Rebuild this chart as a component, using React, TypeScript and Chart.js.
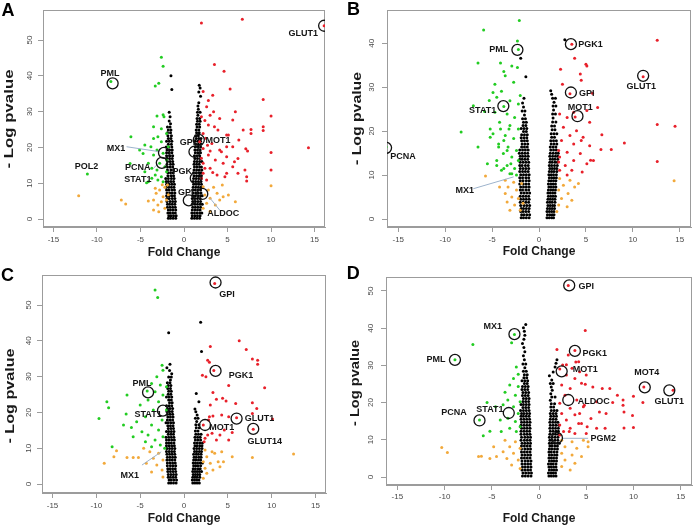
import React, { useEffect, useRef } from 'react';
import { Chart, registerables } from 'chart.js';

Chart.register(...registerables);

type Pt = [number, number];
type Label = [string, number, number];
type Seg = [number, number, number, number];

// ---------- axes ----------
const xTickValues = [-15, -10, -5, 0, 5, 10, 15];
const yTickValuesA = [0, 10, 20, 30, 40, 50];
const yTickValuesB = [0, 10, 20, 30, 40];
const yTickValuesC = [0, 10, 20, 30, 40, 50];
const yTickValuesD = [0, 10, 20, 30, 40, 50];
const xAxisTitle = 'Fold Change';
const yAxisTitle = '- Log pvalue';
const panelLetters = ['A', 'B', 'C', 'D'];

// ---------- panel A ----------
const greenA: Pt[] = [[-8.4,38.4],[-11.1,12.6],[-2.6,45.2],[-2.4,42.7],[-2.9,37.9],[-3.3,37.2],[-2.4,29.1],[-2.3,28.6],[-3.1,28.8],[-3.5,25.8],[-2.6,25.2],[-6.1,23.0],[-3.5,22.5],[-3.0,23.0],[-2.6,21.6],[-3.8,20.2],[-5.1,19.3],[-3.1,19.3],[-4.7,18.3],[-2.4,18.4],[-3.5,17.9],[-6.2,15.5],[-4.1,15.6],[-2.8,15.6],[-2.2,14.6],[-3.7,14.2],[-3.1,13.7],[-4.5,13.2],[-3.3,12.3],[-2.6,11.8],[-3.7,11.4],[-3.0,10.9],[-4.1,10.4],[-2.4,10.4],[-4.3,10.1],[-2.0,13.2],[-2.0,16.5],[-1.8,20.2],[-2.0,23.9],[-4.5,20.7]];
const redA: Pt[] = [[16.1,54.0],[2.0,54.8],[6.7,55.8],[3.5,43.2],[4.6,41.3],[5.3,36.3],[3.3,34.6],[2.8,33.1],[2.2,35.6],[9.1,33.4],[10.0,28.8],[5.9,30.0],[7.7,25.0],[7.7,23.9],[9.1,25.8],[9.1,24.7],[14.3,19.9],[10.0,18.6],[10.0,13.7],[7.2,11.8],[7.2,10.6],[7.3,19.0],[2.6,31.4],[3.4,30.0],[2.0,28.6],[4.1,28.1],[2.8,26.3],[3.9,24.9],[2.2,23.9],[4.9,23.5],[3.2,21.1],[2.2,19.7],[4.1,19.3],[2.8,17.9],[3.6,16.5],[2.2,15.6],[4.5,15.6],[3.0,14.2],[2.2,12.8],[3.8,12.3],[2.6,10.9],[2.0,11.4],[4.9,20.2],[1.8,21.6],[2.0,17.0],[4.7,11.8],[5.6,27.7],[6.8,24.9],[5.1,23.5],[6.3,22.1],[5.6,20.2],[7.1,19.6],[4.9,17.4],[6.2,16.9],[5.6,14.6],[4.9,12.8],[7.0,13.7],[5.8,16.0],[4.3,18.8],[6.2,12.8],[2.5,22.6],[3.0,19.0],[2.4,14.2],[3.3,13.0],[2.7,20.6],[3.5,25.8],[2.4,27.5],[3.0,29.0]];
const orangeA: Pt[] = [[-12.1,6.5],[-7.2,5.3],[-6.7,4.2],[-4.1,5.0],[-3.5,2.5],[-3.2,7.2],[-3.3,8.6],[-2.8,8.1],[-2.2,8.9],[-2.4,6.2],[-3.5,5.3],[-2.6,4.8],[-2.0,5.3],[-3.0,3.9],[-2.2,3.0],[-1.9,9.5],[-2.5,9.6],[-1.8,6.8],[-2.9,2.0],[2.2,9.0],[2.8,8.1],[3.4,8.9],[2.4,6.7],[3.8,7.2],[3.0,5.8],[4.1,5.3],[2.6,4.4],[3.6,3.9],[2.2,3.0],[4.5,6.2],[5.1,6.7],[5.9,4.8],[4.4,9.5],[10.0,9.3],[3.0,2.2]];
const blackA: Pt[] = [[-1.5,40.0],[-1.4,36.2],[-1.7,29.8],[-1.6,28.6],[1.75,37.4],[1.85,36.6],[1.7,35.5],[1.9,34.3]];
// rows: [y, x1, x2, ...]
const blackLeftRowsA: number[][] = [[0.2,-0.95,-1.25,-1.55,-1.8],[0.9,-0.9,-1.2,-1.5,-1.75],[1.7,-1.0,-1.3,-1.6,-1.85],[2.5,-0.95,-1.25,-1.55,-1.8],[3.3,-1.0,-1.3,-1.6,-1.9],[4.1,-1.05,-1.35,-1.65,-1.9],[4.9,-1.0,-1.3,-1.6,-1.95],[5.7,-1.05,-1.35,-1.7,-1.95],[6.5,-1.1,-1.4,-1.7,-2.0],[7.3,-1.05,-1.35,-1.65,-1.95],[8.1,-1.1,-1.4,-1.75,-2.0],[8.9,-1.15,-1.45,-1.75,-2.05],[9.7,-1.1,-1.4,-1.7,-2.0],[10.5,-1.2,-1.5,-1.8,-2.05],[11.3,-1.15,-1.45,-1.8,-2.1],[12.1,-1.2,-1.5,-1.85],[12.9,-1.25,-1.55,-1.85],[13.7,-1.2,-1.5,-1.9],[14.5,-1.3,-1.6,-1.9],[15.3,-1.25,-1.55,-1.95],[16.1,-1.3,-1.6,-1.9],[16.9,-1.35,-1.65,-1.95],[17.7,-1.3,-1.6,-2.0],[18.5,-1.4,-1.7,-2.0],[19.3,-1.35,-1.65,-1.95],[20.1,-1.4,-1.75,-2.05],[20.9,-1.45,-1.8],[21.7,-1.4,-1.7,-2.0],[22.5,-1.5,-1.8],[23.3,-1.45,-1.85],[24.1,-1.55,-1.9],[24.9,-1.5,-1.8],[25.7,-1.6,-1.9],[26.6,-1.55],[27.4,-1.7]];
const blackRightRowsA: number[][] = [[0.2,0.9,1.2,1.5,1.8],[0.9,0.95,1.25,1.55,1.85],[1.7,0.9,1.2,1.5,1.8,2.05],[2.5,0.95,1.25,1.55,1.85],[3.3,1.0,1.3,1.6,1.9],[4.1,0.95,1.25,1.55,1.85,2.1],[4.9,1.0,1.3,1.6,1.9],[5.7,0.95,1.25,1.55,1.85],[6.5,1.0,1.3,1.6,1.9,2.1],[7.3,1.05,1.35,1.65,1.95],[8.1,1.0,1.3,1.6,1.9],[8.9,1.05,1.35,1.65,1.95],[9.7,1.1,1.4,1.7,2.0],[10.5,1.05,1.35,1.65,1.95],[11.3,1.1,1.4,1.7,2.0],[12.1,1.15,1.45,1.75,2.0],[12.9,1.1,1.4,1.7,1.95],[13.7,1.15,1.45,1.75,2.05],[14.5,1.2,1.5,1.8,2.0],[15.3,1.15,1.45,1.75],[16.1,1.2,1.5,1.8,2.05],[16.9,1.25,1.55,1.85],[17.7,1.2,1.5,1.8],[18.5,1.3,1.6,1.9],[19.3,1.25,1.55,1.85],[20.1,1.3,1.6,1.9],[20.9,1.35,1.65,1.95],[21.7,1.3,1.6,1.9],[22.5,1.4,1.7,1.95],[23.3,1.35,1.65],[24.1,1.45,1.75],[24.9,1.4,1.7],[25.7,1.5,1.8],[26.5,1.45,1.75],[27.3,1.55,1.85],[28.1,1.5,1.8],[29.0,1.6],[29.8,1.55,1.85],[30.7,1.65],[31.6,1.6],[32.5,1.7]];
const circlesA: Pt[] = [[16.1,54.0],[-8.2,37.9],[-2.3,18.5],[-2.55,15.7],[1.7,22.1],[1.2,18.8],[1.35,11.4],[0.55,5.2],[2.1,7.0]];
const labelsA: Label[] = [['GLUT1',13.7,51.9],['PML',-8.5,40.7],['POL2',-11.2,14.6],['MX1',-7.8,19.7],['PCNA',-5.3,14.3],['STAT1',-5.3,11.1],['GPI',0.4,21.3],['MOT1',3.9,21.8],['PGK',-0.2,13.4],['GPI',0.2,7.4],['ALDOC',4.5,1.6]];
const leadersA: Seg[] = [[-6.6,20.2,-2.8,18.8],[-3.5,14.2,-3.0,15.4],[3.0,5.8,4.1,2.5]];

// ---------- panel B ----------
const greenB: Pt[] = [[-16.3,16.4],[-2.1,45.2],[-5.9,43.0],[-2.3,40.5],[-2.2,38.6],[-6.5,35.5],[-4.1,35.5],[-3.75,33.6],[-2.3,34.5],[-8.3,19.8],[-7.0,25.8],[-6.5,16.4],[-3.75,25.6],[-4.9,28.8],[-4.0,29.1],[-5.2,20.5],[-4.1,20.5],[-3.2,20.5],[-5.2,18.6],[-3.75,17.9],[-4.3,16.4],[-3.4,15.6],[-5.5,12.6],[-4.5,12.2],[-3.0,12.6],[-2.9,10.3],[-3.75,11.5],[-2.9,34.8],[-3.6,32.6],[-4.7,30.7],[-2.7,31.1],[-2.0,28.1],[-4.5,27.7],[-3.1,26.9],[-2.2,26.2],[-4.7,24.3],[-3.4,23.9],[-2.6,23.1],[-4.2,22.0],[-3.1,21.3],[-2.2,20.5],[-4.9,19.4],[-3.6,19.0],[-2.7,18.3],[-4.3,17.1],[-3.3,16.4],[-2.4,15.6],[-3.8,14.9],[-2.9,14.1],[-2.2,13.3],[-4.5,13.3],[-3.4,12.2],[-2.6,11.5],[-4.0,11.1],[-3.1,10.3],[-2.4,10.0],[-5.8,24.5],[-5.3,27.0]];
const redB: Pt[] = [[3.5,39.8],[12.6,40.7],[11.1,32.4],[5.0,35.2],[3.8,36.6],[3.3,28.5],[3.85,23.2],[12.6,21.5],[14.5,21.1],[9.1,17.3],[7.7,15.8],[6.7,19.2],[12.6,13.1],[6.25,25.4],[5.7,28.6],[4.5,31.6],[2.3,34.1],[2.5,30.7],[5.5,13.4],[6.6,15.8],[4.5,17.9],[5.1,34.8],[4.4,33.0],[2.2,23.9],[3.0,23.1],[3.7,24.3],[5.1,24.7],[5.4,22.0],[2.6,20.9],[4.0,20.1],[3.3,19.0],[4.7,18.6],[2.4,17.9],[3.7,17.1],[5.4,16.7],[2.1,15.6],[3.0,15.2],[4.4,14.9],[2.2,14.1],[3.7,13.3],[5.1,12.6],[2.8,12.2],[2.2,11.1],[3.5,11.1],[4.6,10.7],[3.0,10.0],[2.1,13.0],[5.8,13.3]];
const orangeB: Pt[] = [[14.4,8.7],[-5.7,9.8],[-3.6,8.8],[-2.7,8.4],[-3.3,7.3],[-2.4,6.6],[-3.6,5.8],[-2.9,5.0],[-2.2,4.7],[-3.4,3.9],[-2.6,3.2],[-3.1,2.0],[-2.0,2.0],[-4.2,7.3],[-1.85,8.1],[-1.7,3.6],[2.2,9.2],[3.3,8.8],[2.6,7.7],[3.8,7.3],[2.1,6.6],[3.1,5.8],[2.4,4.7],[3.5,4.3],[2.1,3.2],[3.0,2.8],[4.2,8.1],[1.9,1.7]];
const blackB: Pt[] = [[-1.95,36.6],[-1.4,32.4],[2.75,40.8],[-1.6,27.5]];
const blackLeftRowsB: number[][] = [[0.3,-1.05,-1.35,-1.65,-1.9],[1.0,-1.0,-1.3,-1.6,-1.85],[1.7,-1.1,-1.4,-1.7,-1.95],[2.4,-1.05,-1.35,-1.65,-1.9],[3.1,-1.0,-1.3,-1.6,-1.95],[3.8,-1.1,-1.4,-1.7,-2.0],[4.5,-1.05,-1.35,-1.65,-1.95],[5.2,-1.1,-1.4,-1.7,-2.0],[5.9,-1.0,-1.3,-1.6,-1.9],[6.6,-1.1,-1.4,-1.75,-2.0],[7.3,-1.05,-1.35,-1.65,-1.95],[8.0,-1.1,-1.4,-1.7,-2.05],[8.7,-1.05,-1.35,-1.7,-2.0],[9.4,-1.1,-1.4,-1.75,-2.05],[10.1,-1.05,-1.35,-1.65,-1.95],[10.8,-1.15,-1.45,-1.75,-2.05],[11.5,-1.1,-1.4,-1.7,-2.0],[12.2,-1.15,-1.45,-1.8,-2.05],[12.9,-1.1,-1.4,-1.7,-2.0],[13.6,-1.2,-1.5,-1.8,-2.05],[14.3,-1.15,-1.45,-1.75,-2.0],[15.0,-1.2,-1.5,-1.8,-2.1],[15.7,-1.15,-1.45,-1.75,-2.05],[16.4,-1.25,-1.55,-1.85],[17.1,-1.2,-1.5,-1.8],[17.8,-1.25,-1.55,-1.85],[18.5,-1.3,-1.6,-1.9],[19.2,-1.25,-1.55,-1.85],[19.9,-1.35,-1.65],[20.6,-1.3,-1.6,-1.9],[21.3,-1.4,-1.7],[22.0,-1.35,-1.65],[22.8,-1.45,-1.75],[23.7,-1.55],[24.6,-1.5,-1.8],[25.5,-1.65],[26.4,-1.75]];
const blackRightRowsB: number[][] = [[0.3,0.85,1.1,1.35,1.55],[1.0,0.9,1.15,1.4,1.6],[1.7,0.85,1.1,1.35,1.6],[2.4,0.9,1.15,1.4,1.65],[3.1,0.95,1.2,1.45,1.65],[3.8,0.9,1.15,1.4,1.7],[4.5,0.95,1.2,1.45,1.7],[5.2,1.0,1.25,1.5,1.75],[5.9,0.95,1.2,1.45,1.7],[6.6,1.0,1.25,1.5,1.75],[7.3,1.05,1.3,1.55,1.8],[8.0,1.0,1.25,1.5,1.75],[8.7,1.05,1.3,1.55,1.8],[9.4,1.1,1.35,1.6,1.85],[10.1,1.05,1.3,1.55,1.85],[10.8,1.1,1.35,1.6,1.9],[11.5,1.15,1.4,1.65,1.9],[12.2,1.1,1.35,1.65,1.95],[12.9,1.15,1.4,1.7,1.95],[13.6,1.2,1.45,1.7,2.0],[14.3,1.15,1.45,1.75,2.0],[15.0,1.2,1.5,1.8,2.05],[15.7,1.25,1.55,1.85],[16.4,1.2,1.5,1.8],[17.1,1.3,1.6,1.9],[17.8,1.25,1.55,1.85],[18.6,1.35,1.65],[19.4,1.3,1.6,1.9],[20.3,1.4,1.7],[21.2,1.35,1.65],[22.1,1.45,1.8],[23.0,1.5],[23.9,1.45,1.75],[24.8,1.55],[25.7,1.5,1.8],[26.6,1.6],[27.5,1.45,1.75],[28.4,1.35],[29.2,1.25]];
const circlesB: Pt[] = [[-2.3,38.5],[3.4,39.8],[11.1,32.6],[3.4,28.8],[4.1,23.4],[-3.8,25.7],[-16.3,16.2]];
const labelsB: Label[] = [['PML',-4.3,38.5],['PGK1',5.5,39.8],['GLUT1',10.9,30.1],['GPI',5.1,28.6],['MOT1',4.4,25.3],['STAT1',-6.0,24.7],['PCNA',-14.5,14.3],['MX1',-7.9,6.4]];
const leadersB: Seg[] = [[-7.0,6.9,-2.7,9.6]];

// ---------- panel C ----------
const greenC: Pt[] = [[-3.3,54.2],[-3.0,52.1],[-4.2,26.0],[-6.5,24.9],[-8.8,23.0],[-8.6,21.3],[-9.7,18.3],[-6.6,19.6],[-8.2,10.4],[-6.9,16.5],[-6.0,15.8],[-5.8,13.2],[-2.5,33.2],[-2.4,31.8],[-3.1,30.0],[-3.7,28.1],[-2.7,27.7],[-3.3,25.8],[-2.4,24.9],[-4.1,23.5],[-2.9,23.0],[-5.0,22.1],[-3.5,20.7],[-4.4,18.8],[-2.5,17.9],[-5.4,17.4],[-3.7,16.5],[-2.9,15.1],[-4.8,14.6],[-4.1,13.7],[-2.4,13.2],[-3.3,12.3],[-4.4,11.8],[-2.7,10.9],[-3.7,10.4],[-2.2,10.0],[-2.0,20.7],[-2.0,27.2]];
const redC: Pt[] = [[3.5,56.0],[6.3,40.0],[7.1,37.6],[3.0,38.4],[2.7,34.6],[2.9,34.0],[3.4,31.7],[2.1,30.4],[2.5,30.0],[7.8,34.9],[8.4,34.6],[8.4,33.5],[9.2,26.9],[10.1,18.2],[6.0,18.5],[7.9,15.3],[2.2,16.5],[5.1,27.5],[3.3,25.6],[3.7,23.7],[4.8,23.2],[5.9,22.5],[7.8,22.7],[8.3,21.1],[7.8,19.7],[5.1,18.8],[4.3,19.3],[3.0,22.1],[3.3,19.0],[4.6,15.1],[5.5,14.4],[5.1,12.3],[3.7,12.3],[2.7,13.7],[2.9,18.8],[2.3,11.8],[2.8,17.9],[3.2,14.2],[2.4,12.8],[4.1,13.7],[4.4,24.0]];
const orangeC: Pt[] = [[12.5,8.4],[-9.1,5.8],[-8.0,7.6],[-7.7,9.3],[-6.5,7.4],[-5.8,7.4],[-5.2,7.4],[7.8,7.4],[5.5,7.6],[4.5,6.2],[3.9,6.2],[3.5,8.6],[4.3,9.0],[-4.6,10.0],[-3.9,9.0],[-2.9,8.6],[-3.5,7.2],[-2.4,6.7],[-4.3,5.8],[-3.1,5.3],[-2.5,3.9],[-3.7,3.4],[-2.4,2.0],[2.4,9.5],[3.2,9.0],[2.6,7.6],[2.2,6.2],[3.0,5.8],[2.4,4.4],[3.3,3.9],[2.6,3.0],[2.2,1.6],[4.1,4.8]];
const blackC: Pt[] = [[-1.75,42.3],[1.4,25.3],[1.7,23.0],[2.0,37.0],[1.9,45.2]];
const blackLeftRowsC: number[][] = [[0.3,-0.9,-1.2,-1.5,-1.75],[1.1,-0.85,-1.15,-1.45,-1.7],[1.9,-0.95,-1.25,-1.55,-1.8],[2.7,-0.9,-1.2,-1.5,-1.8],[3.5,-0.95,-1.25,-1.55,-1.85],[4.3,-1.0,-1.3,-1.6,-1.85],[5.1,-0.95,-1.25,-1.55,-1.9],[5.9,-1.0,-1.3,-1.6,-1.9],[6.7,-1.05,-1.35,-1.65,-1.95],[7.5,-1.0,-1.3,-1.6,-1.9],[8.3,-1.05,-1.35,-1.65,-1.95],[9.1,-1.1,-1.4,-1.7,-2.0],[9.9,-1.05,-1.35,-1.65,-1.95],[10.7,-1.1,-1.4,-1.7,-2.0],[11.5,-1.15,-1.45,-1.75,-2.0],[12.3,-1.1,-1.4,-1.7,-2.0],[13.1,-1.15,-1.45,-1.75,-2.05],[13.9,-1.2,-1.5,-1.8],[14.7,-1.15,-1.45,-1.75,-2.0],[15.5,-1.2,-1.5,-1.8],[16.3,-1.25,-1.55,-1.85],[17.1,-1.2,-1.5,-1.8,-2.05],[17.9,-1.3,-1.6,-1.9],[18.7,-1.25,-1.55,-1.85],[19.5,-1.3,-1.6,-1.9],[20.3,-1.35,-1.65,-1.95],[21.1,-1.3,-1.6,-1.9],[21.9,-1.4,-1.7,-2.0],[22.7,-1.35,-1.65],[23.5,-1.45,-1.75],[24.3,-1.4,-1.7,-2.0],[25.1,-1.5,-1.8],[25.9,-1.45,-1.75],[26.7,-1.55,-1.85],[27.5,-1.5,-1.8],[28.3,-1.6,-1.9],[29.1,-1.55],[29.9,-1.45,-1.75],[30.8,-1.4],[31.7,-1.65],[32.5,-1.95],[33.5,-1.6]];
const blackRightRowsC: number[][] = [[0.3,1.0,1.25,1.5,1.75],[1.1,0.95,1.2,1.45,1.7],[1.9,1.0,1.25,1.5,1.8],[2.7,1.05,1.3,1.55,1.8],[3.5,1.0,1.25,1.5,1.75,2.0],[4.3,1.05,1.3,1.6,1.85],[5.1,1.1,1.35,1.6,1.9],[5.9,1.05,1.3,1.55,1.85,2.1],[6.7,1.1,1.35,1.65,1.9],[7.5,1.15,1.4,1.7,1.95],[8.3,1.1,1.4,1.65,1.95],[9.1,1.2,1.45,1.75,2.0],[9.9,1.15,1.45,1.75,2.05],[10.7,1.25,1.5,1.8,2.05],[11.5,1.2,1.5,1.8,2.1],[12.3,1.3,1.6,1.9],[13.1,1.25,1.55,1.85],[13.9,1.35,1.65,1.95],[14.8,1.3,1.6],[15.7,1.4,1.75],[16.6,1.35,1.7],[17.5,1.45],[18.4,1.3,1.6],[19.3,1.5],[20.2,1.35],[21.0,1.25]];
const circlesC: Pt[] = [[3.6,56.3],[3.6,31.6],[-4.1,25.6],[-2.4,20.5],[6.0,18.3],[2.4,16.5],[7.9,15.4]];
const labelsC: Label[] = [['GPI',4.9,53.0],['PGK1',6.5,30.3],['PML',-4.8,28.1],['STAT1',-4.1,19.3],['GLUT1',8.6,18.3],['MOT1',4.3,15.7],['GLUT14',9.2,12.0],['MX1',-6.2,2.3]];
const leadersC: Seg[] = [[-4.8,5.3,-2.6,9.0]];

// ---------- panel D ----------
const greenD: Pt[] = [[-2.6,38.3],[-2.9,36.1],[-7.0,35.6],[-8.9,31.5],[-6.3,15.3],[-5.5,20.0],[-5.9,11.1],[-2.4,29.6],[-2.2,27.6],[-2.7,26.5],[-3.1,24.7],[-2.2,24.3],[-2.5,22.0],[-3.3,20.7],[-2.0,20.2],[-3.8,19.4],[-2.7,18.9],[-2.2,17.1],[-3.3,15.8],[-4.1,15.3],[-2.5,14.9],[-2.0,13.5],[-3.1,13.1],[-4.0,12.2],[-2.4,12.2],[-4.6,18.9],[-5.2,12.3],[-3.6,22.8]];
const redD: Pt[] = [[3.1,51.5],[4.9,39.4],[3.8,34.0],[1.9,34.3],[2.5,30.1],[2.9,30.2],[2.2,29.0],[11.1,24.2],[14.2,23.3],[11.0,20.0],[10.0,21.7],[9.9,16.5],[10.0,13.3],[9.0,13.2],[9.0,17.5],[7.5,23.8],[6.7,23.8],[4.9,24.9],[7.0,13.1],[6.1,13.1],[3.9,30.9],[4.3,28.3],[5.0,27.4],[3.8,26.5],[5.7,24.2],[8.3,22.0],[7.8,20.0],[8.9,20.7],[8.9,19.3],[6.1,20.2],[5.5,15.7],[7.1,17.1],[4.5,14.4],[5.0,11.7],[3.2,12.2],[4.3,17.1],[4.8,19.3],[6.4,17.5],[3.1,32.8],[4.2,31.0],[3.5,29.2],[2.9,27.4],[2.4,24.7],[3.3,23.8],[4.5,25.2],[2.75,22.0],[4.0,20.7],[2.2,19.8],[3.3,18.5],[4.7,18.9],[2.4,17.1],[3.8,16.7],[2.9,15.3],[2.2,14.0],[4.2,14.4],[3.3,13.1],[2.6,12.2],[5.1,13.5],[3.8,11.7],[2.2,11.3]];
const orangeD: Pt[] = [[-10.3,7.9],[-9.7,6.6],[-6.4,5.5],[-6.1,5.6],[-3.6,9.9],[-2.5,9.5],[-3.1,8.1],[-2.0,7.7],[-3.8,6.8],[-2.7,6.4],[-3.4,5.0],[-2.2,4.6],[-2.9,3.2],[-2.0,2.3],[-4.5,5.5],[-4.8,8.1],[-5.2,5.0],[2.4,9.9],[3.5,9.5],[4.7,9.9],[2.75,8.1],[4.0,7.7],[5.2,8.1],[2.4,6.4],[3.5,5.9],[4.5,5.5],[2.75,4.6],[3.8,3.7],[2.4,2.8],[3.3,1.9],[5.2,9.5]];
const blackD: Pt[] = [];
const blackLeftRowsD: number[][] = [[0.3,-0.85,-1.15,-1.45,-1.75],[1.1,-0.8,-1.1,-1.4,-1.7],[1.9,-0.9,-1.2,-1.5,-1.8],[2.7,-0.85,-1.15,-1.45,-1.75],[3.5,-0.9,-1.2,-1.5,-1.8],[4.3,-0.85,-1.15,-1.45,-1.8],[5.1,-0.95,-1.25,-1.55,-1.85],[5.9,-0.9,-1.2,-1.5,-1.8],[6.7,-0.95,-1.25,-1.55,-1.85],[7.5,-0.9,-1.2,-1.5,-1.85],[8.3,-0.95,-1.25,-1.55,-1.85],[9.1,-0.9,-1.2,-1.5,-1.8],[9.9,-0.95,-1.25,-1.55,-1.9],[10.7,-0.9,-1.2,-1.5,-1.85],[11.5,-0.95,-1.25,-1.55,-1.9],[12.3,-1.0,-1.3,-1.6,-1.9],[13.1,-0.95,-1.25,-1.55,-1.85],[13.9,-1.0,-1.3,-1.6,-1.9],[14.7,-0.95,-1.25,-1.55,-1.85],[15.5,-1.0,-1.3,-1.6,-1.9],[16.3,-1.05,-1.35,-1.65,-1.9],[17.1,-1.0,-1.3,-1.6,-1.85],[17.9,-1.05,-1.35,-1.65,-1.95],[18.7,-1.1,-1.4,-1.7],[19.5,-1.05,-1.35,-1.65,-1.9],[20.3,-1.1,-1.4,-1.7],[21.1,-1.05,-1.35,-1.65],[21.9,-1.15,-1.45,-1.75],[22.7,-1.1,-1.4,-1.7],[23.5,-1.2,-1.5,-1.8],[24.3,-1.15,-1.45,-1.75],[25.1,-1.25,-1.55],[25.9,-1.2,-1.5,-1.8],[26.7,-1.3,-1.6],[27.5,-1.25,-1.55],[28.4,-1.35,-1.65],[29.4,-1.5],[30.4,-1.4,-1.7],[31.5,-1.55],[32.6,-1.65],[33.7,-1.5],[34.8,-1.6],[35.9,-1.75],[37.0,-1.6],[38.1,-1.5],[39.2,-1.55],[40.1,-1.65],[41.0,-1.4]];
const blackRightRowsD: number[][] = [[0.3,1.05,1.3,1.55,1.8],[1.1,1.0,1.25,1.5,1.75],[1.9,1.1,1.35,1.6,1.85],[2.7,1.05,1.3,1.55,1.8],[3.5,1.0,1.25,1.5,1.8],[4.3,1.1,1.35,1.6,1.85],[5.1,1.05,1.3,1.55,1.85],[5.9,1.1,1.35,1.65,1.9],[6.7,1.05,1.3,1.6,1.9],[7.5,1.1,1.35,1.65,1.95],[8.3,1.15,1.4,1.7,1.95],[9.1,1.1,1.35,1.65,1.95,2.15],[9.9,1.15,1.4,1.7,2.0],[10.7,1.1,1.4,1.7,2.0],[11.5,1.15,1.45,1.75,2.05],[12.3,1.2,1.5,1.8,2.05],[13.1,1.15,1.45,1.75,2.05],[13.9,1.2,1.5,1.8,2.1],[14.7,1.15,1.45,1.75,2.0],[15.5,1.2,1.5,1.8],[16.3,1.25,1.55,1.85],[17.1,1.2,1.5,1.8],[17.9,1.3,1.6,1.9],[18.8,1.25,1.55],[19.7,1.3,1.65],[20.6,1.2],[21.5,1.35,1.7],[22.4,1.25],[23.3,1.4],[24.2,1.3],[25.1,1.2,1.5],[26.1,1.35],[27.2,1.1],[28.2,1.5],[29.6,1.7],[30.6,1.8],[31.5,1.9]];
const circlesD: Pt[] = [[3.2,51.5],[-2.6,38.4],[-8.9,31.5],[3.8,33.9],[2.4,28.4],[11.2,24.1],[13.8,23.3],[3.1,20.7],[-3.2,17.2],[-6.3,15.2],[1.9,10.5]];
const labelsD: Label[] = [['GPI',5.0,51.3],['MX1',-4.9,40.5],['PML',-10.9,31.7],['PGK1',5.9,33.2],['MOT1',4.9,29.0],['MOT4',11.4,28.1],['GLUT1',13.8,20.2],['ALDOC',5.8,20.2],['STAT1',-5.2,18.2],['PCNA',-9.0,17.3],['PGM2',6.8,10.4]];
const leadersD: Seg[] = [[2.5,10.4,5.2,10.4]];

// ---------- styling / layout (not data) ----------
const FONT = "Arial, 'Liberation Sans', Helvetica, sans-serif";
const COLORS = { green: '#22cc22', red: '#e8202a', orange: '#f2a93b', black: '#000000', box: '#9c9c9c', leader: '#9db3cc', tick: '#4a4a4a', title: '#1a1a1a', label: '#151515' };

interface Layout { left: number; top: number; width: number; height: number; padTop: number; padRight: number; yAxisW: number; xAxisH: number; xTickPad: number; yTickPad: number; xTitlePad: number; yTitleX: number; yTitleY: number; yTitleLen: number; letterLeft: number; letterTop: number; }
interface Spec { letter: string; yMin: number; yMax: number; yTicks: number[]; green: Pt[]; red: Pt[]; orange: Pt[]; black: Pt[]; leftRows: number[][]; rightRows: number[][]; circles: Pt[]; labels: Label[]; leaders: Seg[]; layout: Layout; }

const specs: Spec[] = [
  { letter: panelLetters[0], yMin: -2.23, yMax: 58.4, yTicks: yTickValuesA, green: greenA, red: redA, orange: orangeA, black: blackA, leftRows: blackLeftRowsA, rightRows: blackRightRowsA, circles: circlesA, labels: labelsA, leaders: leadersA,
    layout: { left: 0, top: 0, width: 348, height: 265, padTop: 10, padRight: 23, yAxisW: 43, xAxisH: 38, xTickPad: 3, yTickPad: 3.5, xTitlePad: 4.8, yTitleX: 10, yTitleY: 119, yTitleLen: 99, letterLeft: 1.5, letterTop: 1.2 } },
  { letter: panelLetters[1], yMin: -1.81, yMax: 47.5, yTicks: yTickValuesB, green: greenB, red: redB, orange: orangeB, black: blackB, leftRows: blackLeftRowsB, rightRows: blackRightRowsB, circles: circlesB, labels: labelsB, leaders: leadersB,
    layout: { left: 348, top: 0, width: 348, height: 265, padTop: 9, padRight: 5, yAxisW: 39, xAxisH: 38, xTickPad: 3, yTickPad: 5.5, xTitlePad: 5.8, yTitleX: 10, yTitleY: 118.5, yTitleLen: 93, letterLeft: 347, letterTop: -0.3 } },
  { letter: panelLetters[2], yMin: -2.5, yMax: 58.4, yTicks: yTickValuesC, green: greenC, red: redC, orange: orangeC, black: blackC, leftRows: blackLeftRowsC, rightRows: blackRightRowsC, circles: circlesC, labels: labelsC, leaders: leadersC,
    layout: { left: 0, top: 265, width: 348, height: 264, padTop: 10, padRight: 22, yAxisW: 42, xAxisH: 36, xTickPad: 3, yTickPad: 4.2, xTitlePad: 2.8, yTitleX: 11, yTitleY: 131, yTitleLen: 95, letterLeft: 1, letterTop: 265.5 } },
  { letter: panelLetters[3], yMin: -2.15, yMax: 53.76, yTicks: yTickValuesD, green: greenD, red: redD, orange: orangeD, black: blackD, leftRows: blackLeftRowsD, rightRows: blackRightRowsD, circles: circlesD, labels: labelsD, leaders: leadersD,
    layout: { left: 348, top: 265, width: 348, height: 264, padTop: 12, padRight: 4, yAxisW: 38, xAxisH: 44, xTickPad: 2, yTickPad: 5.8, xTitlePad: 2.8, yTitleX: 8, yTitleY: 118, yTitleLen: 86, letterLeft: 346.7, letterTop: 263.5 } },
];

const toXY = (pts: Pt[]) => pts.map(([x, y]) => ({ x, y }));
const fromRows = (rows: number[][]) => rows.flatMap(([y, ...xs]) => xs.map((x) => ({ x, y })));

function Panel({ spec }: { spec: Spec }) {
  const ref = useRef<HTMLCanvasElement>(null);
  const L = spec.layout;
  useEffect(() => {
    const canvas = ref.current;
    if (!canvas) return;

    const boxPlugin = {
      id: 'rbox',
      beforeDatasetsDraw(chart: any) {
        const { ctx, chartArea: a } = chart;
        ctx.save();
        ctx.strokeStyle = COLORS.box;
        ctx.lineWidth = 1;
        ctx.strokeRect(Math.round(a.left) + 0.5, Math.round(a.top) + 0.5, Math.round(a.right - a.left) - 1, Math.round(a.bottom - a.top) - 1);
        ctx.restore();
      },
    };
    const labelPlugin = {
      id: 'geneLabels',
      afterDatasetsDraw(chart: any) {
        const { ctx } = chart;
        const xs = chart.scales.x;
        const ys = chart.scales.y;
        ctx.save();
        ctx.font = `bold 9px ${FONT}`;
        ctx.fillStyle = COLORS.label;
        ctx.textAlign = 'center';
        ctx.textBaseline = 'middle';
        for (const [t, vx, vy] of spec.labels) ctx.fillText(t, xs.getPixelForValue(vx), ys.getPixelForValue(vy));
        ctx.restore();
      },
    };
    const yTitlePlugin = {
      id: 'yTitle',
      afterDraw(chart: any) {
        const { ctx } = chart;
        ctx.save();
        ctx.font = `bold 12px ${FONT}`;
        const w = ctx.measureText(yAxisTitle).width || 1;
        ctx.translate(L.yTitleX, L.yTitleY);
        ctx.rotate(-Math.PI / 2);
        ctx.scale(L.yTitleLen / w, 1);
        ctx.fillStyle = COLORS.title;
        ctx.textAlign = 'center';
        ctx.textBaseline = 'middle';
        ctx.fillText(yAxisTitle, 0, 0);
        ctx.restore();
      },
    };

    const black = [...fromRows(spec.leftRows), ...fromRows(spec.rightRows), ...toXY(spec.black)];
    const datasets: any[] = [
      { label: 'circles', data: toXY(spec.circles), pointRadius: 5.5, pointStyle: 'circle', pointBorderColor: '#111', pointBorderWidth: 1.3, pointBackgroundColor: 'rgba(0,0,0,0)', order: 0 },
      ...spec.leaders.map((s, i) => ({ label: 'leader' + i, data: [{ x: s[0], y: s[1] }, { x: s[2], y: s[3] }], showLine: true, borderColor: COLORS.leader, borderWidth: 1, pointRadius: 0, order: 1 })),
      { label: 'up', data: toXY(spec.red), pointRadius: 1.5, pointBackgroundColor: COLORS.red, pointBorderWidth: 0, order: 2 },
      { label: 'down', data: toXY(spec.green), pointRadius: 1.5, pointBackgroundColor: COLORS.green, pointBorderWidth: 0, order: 2 },
      { label: 'fc only', data: toXY(spec.orange), pointRadius: 1.5, pointBackgroundColor: COLORS.orange, pointBorderWidth: 0, order: 3 },
      { label: 'ns', data: black, pointRadius: 1.5, pointBackgroundColor: COLORS.black, pointBorderWidth: 0, order: 4 },
    ];

    const chart = new Chart(canvas, {
      type: 'scatter',
      data: { datasets },
      plugins: [boxPlugin, labelPlugin, yTitlePlugin],
      options: {
        animation: false,
        responsive: false,
        maintainAspectRatio: false,
        events: [],
        layout: { autoPadding: false, padding: { left: 0, top: L.padTop, right: L.padRight, bottom: 0 } },
        plugins: { legend: { display: false }, tooltip: { enabled: false } },
        scales: {
          x: {
            type: 'linear', position: 'bottom', min: -16.2, max: 16.2,
            afterBuildTicks: (s: any) => { s.ticks = xTickValues.map((v) => ({ value: v })); },
            afterFit: (s: any) => { s.height = L.xAxisH; },
            grid: { drawOnChartArea: false, drawTicks: true, tickLength: 5, color: COLORS.box, lineWidth: 1 },
            border: { display: true, color: COLORS.box, width: 1 },
            ticks: { autoSkip: false, maxRotation: 0, minRotation: 0, padding: L.xTickPad, color: COLORS.tick, font: { family: FONT, size: 8 }, callback: (v: any) => String(v) },
            title: { display: true, text: xAxisTitle, color: COLORS.title, font: { family: FONT, size: 12, weight: 'bold' }, padding: { top: 0, bottom: L.xTitlePad } },
          },
          y: {
            type: 'linear', position: 'left', min: spec.yMin, max: spec.yMax,
            afterBuildTicks: (s: any) => { s.ticks = spec.yTicks.map((v) => ({ value: v })); },
            afterFit: (s: any) => { s.width = L.yAxisW; },
            grid: { drawOnChartArea: false, drawTicks: true, tickLength: 5, color: COLORS.box, lineWidth: 1 },
            border: { display: true, color: COLORS.box, width: 1 },
            ticks: { autoSkip: false, minRotation: 90, maxRotation: 90, crossAlign: 'center', padding: L.yTickPad, color: COLORS.tick, font: { family: FONT, size: 8 }, callback: (v: any) => String(v) },
            title: { display: false },
          },
        },
      } as any,
    });
    return () => chart.destroy();
  }, [spec]);

  return (
    <>
      <canvas ref={ref} width={L.width} height={L.height} style={{ position: 'absolute', left: L.left, top: L.top, width: L.width, height: L.height }} />
      <div style={{ position: 'absolute', left: L.letterLeft, top: L.letterTop, fontFamily: FONT, fontWeight: 'bold', fontSize: 18, lineHeight: '18px', color: '#000' }}>{spec.letter}</div>
    </>
  );
}

export default function App() {
  return (
    <div style={{ position: 'fixed', left: 0, top: 0, width: 696, height: 529, background: '#fff', overflow: 'hidden' }}>
      {specs.map((s) => (
        <Panel key={s.letter} spec={s} />
      ))}
    </div>
  );
}
